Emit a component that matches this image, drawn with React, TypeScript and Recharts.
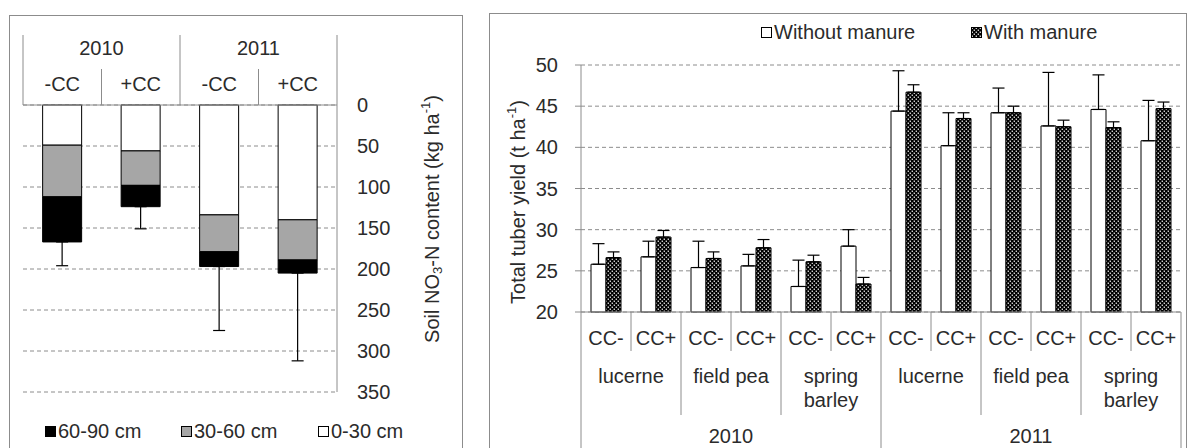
import React from "react";
import { BarChart, Bar, XAxis, YAxis, CartesianGrid, ErrorBar, Label } from "recharts";

// left panel - soil NO3-N by layer (kg/ha)
const soilYears = ["2010", "2010", "2011", "2011"];
const soilCC = ["-CC", "+CC", "-CC", "+CC"];
const layer0to30 = [49, 56, 134, 140];
const layer30to60 = [63, 42, 45, 49];
const layer60to90 = [55, 26, 18, 16];
const soilErr = [29, 27, 78, 107];
const soilTicks = [0, 50, 100, 150, 200, 250, 300, 350];

// right panel - total tuber yield (t/ha)
const yieldYears = ["2010", "2010", "2010", "2010", "2010", "2010", "2011", "2011", "2011", "2011", "2011", "2011"];
const yieldCrops = ["lucerne", "lucerne", "field pea", "field pea", "spring\nbarley", "spring\nbarley",
  "lucerne", "lucerne", "field pea", "field pea", "spring\nbarley", "spring\nbarley"];
const yieldCC = ["CC-", "CC+", "CC-", "CC+", "CC-", "CC+", "CC-", "CC+", "CC-", "CC+", "CC-", "CC+"];
const withoutManure = [25.8, 26.7, 25.4, 25.6, 23.1, 28.0, 44.4, 40.2, 44.2, 42.6, 44.6, 40.8];
const withManure = [26.6, 29.1, 26.5, 27.8, 26.1, 23.4, 46.7, 43.5, 44.2, 42.5, 42.4, 44.7];
const errWithout = [2.5, 1.9, 3.2, 1.4, 3.2, 2.0, 4.9, 4.0, 3.0, 6.5, 4.2, 4.9];
const errWith = [0.7, 0.8, 0.8, 1.0, 0.8, 0.8, 0.9, 0.7, 0.8, 0.8, 0.7, 0.8];
const yieldTicks = [20, 25, 30, 35, 40, 45, 50];

const soilData = soilCC.map((cc, i) => ({
  cc,
  year: soilYears[i],
  l0: layer0to30[i],
  l30: layer30to60[i],
  l60: layer60to90[i],
  err: [0, soilErr[i]],
}));

const yieldData = yieldCC.map((cc, i) => ({
  cc,
  crop: yieldCrops[i],
  year: yieldYears[i],
  without: withoutManure[i],
  with: withManure[i],
  errWithout: [0, errWithout[i]],
  errWith: [0, errWith[i]],
}));

const FONT = "'Liberation Sans', Arial, sans-serif";
const TXT = "#2b2b2b";
const AX = "#8c8c8c";
const FS = 20;

// left chart geometry
const L_W = 470, L_H = 448;
const L_M = { top: 35, right: 0, left: 23, bottom: 56 };
const L_YW = 133;
const L_BAND = (L_W - L_M.left - L_M.right - L_YW) / soilCC.length;

// right chart geometry
const R_W = 698, R_H = 448;
const R_M = { top: 65, right: 6, left: 0, bottom: 0 };
const R_YW = 92;
const R_BAND = (R_W - R_M.left - R_M.right - R_YW) / yieldCC.length;

const SoilTick = (props: any) => {
  const { x, y, index } = props;
  const left = x - L_BAND / 2;
  const yearStart = index % 2 === 0;
  return (
    <g>
      <line x1={left} x2={left} y1={y} y2={yearStart ? y - 70 : y - 36} stroke={AX} />
      {index === soilCC.length - 1 && (
        <line x1={x + L_BAND / 2} x2={x + L_BAND / 2} y1={y} y2={y - 70} stroke={AX} />
      )}
      <text x={x} y={y - 14} textAnchor="middle" fontSize={FS} fill={TXT} fontFamily={FONT}>
        {soilCC[index]}
      </text>
      {yearStart && (
        <text x={x + L_BAND / 2} y={y - 50} textAnchor="middle" fontSize={FS} fill={TXT} fontFamily={FONT}>
          {soilYears[index]}
        </text>
      )}
    </g>
  );
};

const YieldTick = (props: any) => {
  const { x, y, index } = props;
  const left = x - R_BAND / 2;
  const yearStart = index % 6 === 0;
  const cropStart = index % 2 === 0;
  const lines = yieldCrops[index].split("\n");
  return (
    <g>
      <line x1={left} x2={left} y1={y} y2={yearStart ? y + 140 : cropStart ? y + 103 : y + 39} stroke={AX} />
      {index === yieldCC.length - 1 && (
        <line x1={x + R_BAND / 2} x2={x + R_BAND / 2} y1={y} y2={y + 140} stroke={AX} />
      )}
      <text x={x} y={y + 33} textAnchor="middle" fontSize={FS} fill={TXT} fontFamily={FONT}>
        {yieldCC[index]}
      </text>
      {cropStart &&
        lines.map((ln, k) => (
          <text key={k} x={x + R_BAND / 2} y={y + 71 + k * 24} textAnchor="middle" fontSize={FS} fill={TXT} fontFamily={FONT}>
            {ln}
          </text>
        ))}
      {yearStart && (
        <text x={x + R_BAND * 2.5} y={y + 131} textAnchor="middle" fontSize={FS} fill={TXT} fontFamily={FONT}>
          {yieldYears[index]}
        </text>
      )}
    </g>
  );
};

const SoilTitle = (props: any) => {
  const vb = props.viewBox;
  const cx = vb.x + 95;
  const cy = vb.y + 114;
  return (
    <text x={cx} y={cy} transform={`rotate(-90 ${cx} ${cy})`} textAnchor="middle" dominantBaseline="central"
      fontSize={FS} fill={TXT} fontFamily={FONT}>
      Soil NO<tspan dy={5} fontSize={13}>3</tspan>
      <tspan dy={-5}>-N content (kg ha</tspan>
      <tspan dy={-7} fontSize={13}>-1</tspan>
      <tspan dy={7}>)</tspan>
    </text>
  );
};

const YieldTitle = (props: any) => {
  const vb = props.viewBox;
  const cx = vb.x + 29;
  const cy = vb.y + 137;
  return (
    <text x={cx} y={cy} transform={`rotate(-90 ${cx} ${cy})`} textAnchor="middle" dominantBaseline="central"
      fontSize={FS} fill={TXT} fontFamily={FONT}>
      Total tuber yield (t ha<tspan dy={-7} fontSize={13}>-1</tspan>
      <tspan dy={7}>)</tspan>
    </text>
  );
};

const DotPattern = ({ id }: { id: string }) => (
  <pattern id={id} width={4} height={4} patternUnits="userSpaceOnUse">
    <rect width={4} height={4} fill="#000" />
    <rect x={0.6} y={0.6} width={1.4} height={1.2} fill="#fff" />
    <rect x={2.6} y={2.6} width={1.4} height={1.2} fill="#fff" />
  </pattern>
);

const Swatch = ({ fill, pattern }: { fill?: string; pattern?: boolean }) => (
  <svg width={11} height={11} style={{ display: "block" }}>
    {pattern && (
      <defs>
        <DotPattern id="dotsLegend" />
      </defs>
    )}
    <rect x={0.5} y={0.5} width={10} height={10} fill={pattern ? "url(#dotsLegend)" : fill} stroke="#000" />
  </svg>
);

const LegendItem = ({ left, top, label, fill, pattern }: any) => (
  <div style={{ position: "absolute", left, top, display: "flex", alignItems: "center", gap: 2,
    fontFamily: FONT, fontSize: FS, color: TXT, lineHeight: "20px", whiteSpace: "nowrap" }}>
    <Swatch fill={fill} pattern={pattern} />
    <span>{label}</span>
  </div>
);

export default function App() {
  return (
    <div style={{ position: "absolute", left: 0, top: 0, width: 1187, height: 448, overflow: "hidden", background: "#fff" }}>
      <div style={{ position: "absolute", left: 9, top: 15, width: 452, height: 460, border: `1px solid ${AX}` }} />
      <div style={{ position: "absolute", left: 489, top: 13, width: 696, height: 460, border: `1px solid ${AX}` }} />

      <div style={{ position: "absolute", left: 0, top: 0 }}>
        <BarChart width={L_W} height={L_H} data={soilData} margin={L_M} barCategoryGap="25%">
          <CartesianGrid vertical={false} stroke={AX} strokeDasharray="4 3" />
          <XAxis dataKey="cc" orientation="top" height={70} interval={0} tickLine={false} tickSize={0} tickMargin={0}
            axisLine={{ stroke: AX }} tick={(p: any) => <SoilTick {...p} />} />
          <YAxis orientation="right" width={L_YW} reversed domain={[0, 350]} ticks={soilTicks} interval={0}
            tickLine={false} tickSize={6} tickMargin={14} axisLine={{ stroke: AX }}
            tick={{ fontSize: FS, fill: TXT, fontFamily: FONT }}>
            <Label content={(p: any) => <SoilTitle {...p} />} />
          </YAxis>
          <Bar dataKey="l0" name="0-30 cm" stackId="a" fill="#fff" stroke="#000" isAnimationActive={false} />
          <Bar dataKey="l30" name="30-60 cm" stackId="a" fill="#a6a6a6" stroke="#000" isAnimationActive={false} />
          <Bar dataKey="l60" name="60-90 cm" stackId="a" fill="#000" stroke="#000" isAnimationActive={false}>
            <ErrorBar dataKey="err" width={6} stroke="#000" strokeWidth={1.2} />
          </Bar>
        </BarChart>
      </div>

      <div style={{ position: "absolute", left: 489, top: 0 }}>
        <BarChart width={R_W} height={R_H} data={yieldData} margin={R_M} barCategoryGap="20%" barGap={0}>
          <defs>
            <DotPattern id="dotsBar" />
          </defs>
          <CartesianGrid vertical={false} stroke={AX} strokeDasharray="4 3" />
          <XAxis dataKey="cc" height={136} interval={0} tickLine={false} tickSize={0} tickMargin={0}
            axisLine={{ stroke: AX }} tick={(p: any) => <YieldTick {...p} />} />
          <YAxis width={R_YW} domain={[20, 50]} ticks={yieldTicks} interval={0} tickSize={6} tickMargin={17}
            tickLine={{ stroke: AX }} axisLine={{ stroke: AX }}
            tick={{ fontSize: FS, fill: TXT, fontFamily: FONT }}>
            <Label content={(p: any) => <YieldTitle {...p} />} />
          </YAxis>
          <Bar dataKey="without" name="Without manure" fill="#fff" stroke="#000" isAnimationActive={false}>
            <ErrorBar dataKey="errWithout" width={6} stroke="#000" strokeWidth={1.2} />
          </Bar>
          <Bar dataKey="with" name="With manure" fill="url(#dotsBar)" stroke="#000" isAnimationActive={false}>
            <ErrorBar dataKey="errWith" width={6} stroke="#000" strokeWidth={1.2} />
          </Bar>
        </BarChart>
      </div>

      <LegendItem left={45} top={421} label="60-90 cm" fill="#000" />
      <LegendItem left={181} top={421} label="30-60 cm" fill="#a6a6a6" />
      <LegendItem left={318} top={421} label="0-30 cm" fill="#fff" />

      <LegendItem left={761} top={22} label="Without manure" fill="#fff" />
      <LegendItem left={971} top={22} label="With manure" pattern />
    </div>
  );
}
